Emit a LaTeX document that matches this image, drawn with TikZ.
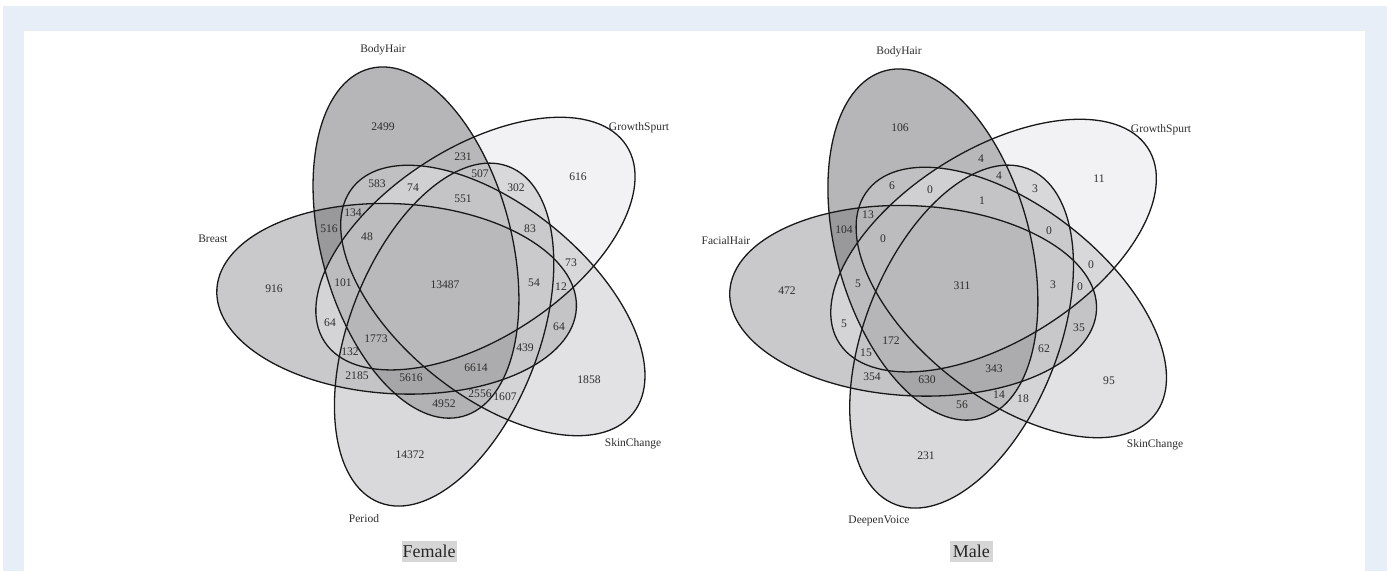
\documentclass[tikz,border=0pt]{standalone}
\usepackage{fontspec}
\setmainfont{Liberation Serif}
\definecolor{bgblue}{RGB}{231,238,248}
\definecolor{numcol}{RGB}{45,45,45}
\definecolor{linecol}{RGB}{25,25,25}
\definecolor{boxgray}{RGB}{214,214,214}
\newcommand\defg[2]{\edef\tmpdefg{\noexpand\definecolor{r#1}{RGB}{#2,#2,\the\numexpr#2+2\relax}}\tmpdefg}
\defg{A}{182}\defg{B}{242}\defg{C}{226}\defg{D}{217}\defg{E}{201}
\defg{AB}{184}\defg{AC}{192}\defg{AD}{178}\defg{AE}{153}\defg{BC}{216}
\defg{BD}{216}\defg{BE}{212}\defg{CD}{212}\defg{CE}{196}\defg{DE}{196}
\defg{ABC}{208}\defg{ABD}{194}\defg{ABE}{188}\defg{ACD}{188}\defg{ACE}{182}
\defg{ADE}{166}\defg{BCD}{202}\defg{BCE}{208}\defg{BDE}{196}\defg{CDE}{200}
\defg{ABCD}{196}\defg{ABCE}{188}\defg{ABDE}{182}\defg{ACDE}{172}\defg{BCDE}{202}
\defg{ABCDE}{185}
\newcommand\vra{180}
\newcommand\vrb{95}
\newcommand\vcl[3]{\clip[rotate around={#1:(#2,#3)}] (#2,#3) ellipse [x radius=\vra, y radius=\vrb];}
\newcommand\vdl[3]{\draw[vline,rotate around={#1:(#2,#3)}] (#2,#3) ellipse [x radius=\vra, y radius=\vrb];}
\newcommand\vcA{\vcl{105}{-29.02}{41.45}}
\newcommand\vcB{\vcl{33}{30.45}{40.41}}
\newcommand\vcC{\vcl{-39}{47.84}{-16.47}}
\newcommand\vcD{\vcl{-111}{-0.88}{-50.59}}
\newcommand\vcE{\vcl{177}{-48.39}{-14.79}}
\newcommand\vreg[2]{\begin{scope}#1\fill[r#2] (-400,-400) rectangle (400,400);\end{scope}}
\newcommand\venncore{%
\vreg{\vcA}{A}\vreg{\vcB}{B}\vreg{\vcC}{C}\vreg{\vcD}{D}\vreg{\vcE}{E}%
\vreg{\vcA\vcB}{AB}\vreg{\vcA\vcC}{AC}\vreg{\vcA\vcD}{AD}\vreg{\vcA\vcE}{AE}%
\vreg{\vcB\vcC}{BC}\vreg{\vcB\vcD}{BD}\vreg{\vcB\vcE}{BE}%
\vreg{\vcC\vcD}{CD}\vreg{\vcC\vcE}{CE}\vreg{\vcD\vcE}{DE}%
\vreg{\vcA\vcB\vcC}{ABC}\vreg{\vcA\vcB\vcD}{ABD}\vreg{\vcA\vcB\vcE}{ABE}%
\vreg{\vcA\vcC\vcD}{ACD}\vreg{\vcA\vcC\vcE}{ACE}\vreg{\vcA\vcD\vcE}{ADE}%
\vreg{\vcB\vcC\vcD}{BCD}\vreg{\vcB\vcC\vcE}{BCE}\vreg{\vcB\vcD\vcE}{BDE}%
\vreg{\vcC\vcD\vcE}{CDE}%
\vreg{\vcA\vcB\vcC\vcD}{ABCD}\vreg{\vcA\vcB\vcC\vcE}{ABCE}\vreg{\vcA\vcB\vcD\vcE}{ABDE}%
\vreg{\vcA\vcC\vcD\vcE}{ACDE}\vreg{\vcB\vcC\vcD\vcE}{BCDE}%
\vreg{\vcA\vcB\vcC\vcD\vcE}{ABCDE}%
\vdl{105}{-29.02}{41.45}\vdl{33}{30.45}{40.41}\vdl{-39}{47.84}{-16.47}%
\vdl{-111}{-0.88}{-50.59}\vdl{177}{-48.39}{-14.79}}
\begin{document}
\begin{tikzpicture}[x=1pt,y=1pt,
  vline/.style={draw=linecol,line width=1.3pt},
  num/.style={font=\fontsize{11.6}{13}\selectfont,text=numcol,inner sep=0pt,text height=7.7pt,text depth=0pt},
  cat/.style={font=\fontsize{11.5}{13}\selectfont,text=numcol,inner sep=0pt,text height=7.7pt,text depth=0pt},
  ttl/.style={font=\fontsize{18}{20}\selectfont,fill=boxgray,text=black!85,inner sep=0pt,minimum height=21.7pt}]
\useasboundingbox (0,0) rectangle (1390,-571);
\fill[white] (0,0) rectangle (1390,-571);
\fill[bgblue] (3,-6) rectangle (1387,-571);
\fill[white] (24,-31) rectangle (1365,-571);
% Female diagram
\begin{scope}[shift={(445,-284)}]
\venncore
\end{scope}
% Male diagram
\begin{scope}[shift={(962.5,-286)},xscale=1.02]
\venncore
\end{scope}
% Female labels
\node[cat] (fBH) at (383,-49) {BodyHair};
\node[cat] (fGS) at (639,-127) {GrowthSpurt};
\node[cat] (fBr) at (213,-239) {Breast};
\node[cat] (fSC) at (633,-443) {SkinChange};
\node[cat] (fPe) at (364,-519) {Period};
\node[ttl,minimum width=55pt] (fT) at (429.2,-551.5) {Female};
\node[num] (f1) at (383,-127) {2499};
\node[num] (f2) at (463,-157) {231};
\node[num] (f3) at (578,-177) {616};
\node[num] (f4) at (480,-174) {507};
\node[num] (f5) at (516,-188) {302};
\node[num] (f6) at (377,-184) {583};
\node[num] (f7) at (413,-188) {74};
\node[num] (f8) at (463,-199) {551};
\node[num] (f9) at (353,-213) {134};
\node[num] (f10) at (329,-229) {516};
\node[num] (f11) at (367,-237) {48};
\node[num] (f12) at (530,-229) {83};
\node[num] (f13) at (571,-263) {73};
\node[num] (f14) at (343,-283) {101};
\node[num] (f15) at (445,-285) {13487};
\node[num] (f16) at (534,-283) {54};
\node[num] (f17) at (561,-287) {12};
\node[num] (f18) at (274,-289) {916};
\node[num] (f19) at (330,-323) {64};
\node[num] (f20) at (559,-327) {64};
\node[num] (f21) at (376,-339) {1773};
\node[num] (f22) at (525,-348) {439};
\node[num] (f23) at (350,-352) {132};
\node[num] (f24) at (476,-368) {6614};
\node[num] (f25) at (357,-376) {2185};
\node[num] (f26) at (411,-378) {5616};
\node[num] (f27) at (589,-380) {1858};
\node[num] (f28) at (480,-394) {2556};
\node[num] (f29) at (505,-397) {1607};
\node[num] (f30) at (444,-404) {4952};
\node[num] (f31) at (410,-455) {14372};
% Male labels
\node[cat] (mBH) at (899,-51) {BodyHair};
\node[cat] (mGS) at (1161,-129) {GrowthSpurt};
\node[cat] (mFH) at (726,-241) {FacialHair};
\node[cat] (mSC) at (1155,-444) {SkinChange};
\node[cat] (mDV) at (879,-520) {DeepenVoice};
\node[ttl,minimum width=42.7pt] (mT) at (971.3,-551.5) {Male};
\node[num] (m1) at (900,-128) {106};
\node[num] (m2) at (981,-159) {4};
\node[num] (m3) at (1099,-179) {11};
\node[num] (m4) at (999,-176) {4};
\node[num] (m5) at (1035,-189) {3};
\node[num] (m6) at (892,-186) {6};
\node[num] (m7) at (930,-190) {0};
\node[num] (m8) at (982,-201) {1};
\node[num] (m9) at (868,-215) {13};
\node[num] (m10) at (844,-230) {104};
\node[num] (m11) at (883,-239) {0};
\node[num] (m12) at (1049,-231) {0};
\node[num] (m13) at (1091,-265) {0};
\node[num] (m14) at (858,-284) {5};
\node[num] (m15) at (962,-286) {311};
\node[num] (m16) at (1053,-285) {3};
\node[num] (m17) at (1080,-287) {0};
\node[num] (m18) at (787,-291) {472};
\node[num] (m19) at (844,-324) {5};
\node[num] (m20) at (1079,-328) {35};
\node[num] (m21) at (891,-341) {172};
\node[num] (m22) at (1044,-349) {62};
\node[num] (m23) at (866,-353) {15};
\node[num] (m24) at (994,-369) {343};
\node[num] (m25) at (872,-377) {354};
\node[num] (m26) at (927,-380) {630};
\node[num] (m27) at (1109,-381) {95};
\node[num] (m28) at (999,-395) {14};
\node[num] (m29) at (1023,-399) {18};
\node[num] (m30) at (962,-405) {56};
\node[num] (m31) at (926,-456) {231};
\end{tikzpicture}
\end{document}
